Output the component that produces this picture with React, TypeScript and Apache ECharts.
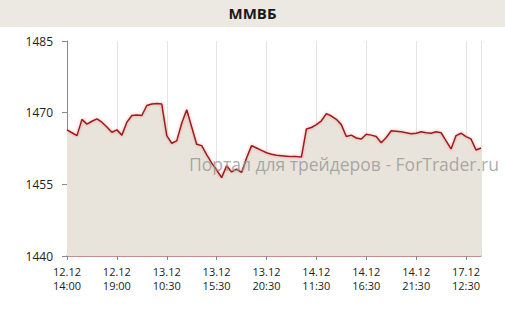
import React, { useEffect, useRef } from "react";
import * as echarts from "echarts";

const title = "ММВБ";
const watermark = "Портал для трейдеров - ForTrader.ru";
const tickLabels = [
  "12.12\n14:00",
  "12.12\n19:00",
  "13.12\n10:30",
  "13.12\n15:30",
  "13.12\n20:30",
  "14.12\n11:30",
  "14.12\n16:30",
  "14.12\n21:30",
  "17.12\n12:30",
];
const yTicks = [1440, 1455, 1470, 1485];
const values = [
  1466.4, 1465.8, 1465.2, 1468.6, 1467.6, 1468.2, 1468.7, 1468.0, 1467.0, 1465.9,
  1466.4, 1465.3, 1468.0, 1469.4, 1469.5, 1469.4, 1471.5, 1471.8, 1471.9, 1471.8,
  1465.2, 1463.6, 1464.1, 1467.8, 1470.6, 1467.0, 1463.4, 1463.1, 1461.2, 1459.5,
  1458.0, 1456.4, 1458.9, 1457.6, 1458.2, 1457.5, 1460.5, 1463.1, 1462.6, 1462.1,
  1461.6, 1461.3, 1461.1, 1461.0, 1460.9, 1460.8, 1460.8, 1460.7, 1466.6, 1466.9,
  1467.5, 1468.3, 1469.8, 1469.3, 1468.6, 1467.5, 1465.0, 1465.3, 1464.7, 1464.5,
  1465.5, 1465.3, 1465.0, 1463.7, 1464.8, 1466.2, 1466.1, 1466.0, 1465.8, 1465.6,
  1465.7, 1466.0, 1465.8, 1465.7, 1466.0, 1465.8, 1464.1, 1462.4, 1465.2, 1465.7,
  1465.0, 1464.5, 1462.2, 1462.6,
];
const pointsPerLabel = 10;

export default function App() {
  const ref = useRef<HTMLDivElement>(null);
  useEffect(() => {
    if (!ref.current) return;
    const chart = echarts.init(ref.current, null, { renderer: "svg" });
    const data = values.map((v, i) => [i, v]);
    chart.setOption({
      animation: false,
      backgroundColor: "#ffffff",
      textStyle: { fontFamily: "Open Sans" },
      graphic: [
        {
          type: "rect",
          left: 0,
          top: 0,
          shape: { width: 505, height: 27 },
          style: { fill: "#ECE9E2" },
          silent: true,
          z: -1,
        },
        {
          type: "text",
          left: "center",
          top: 5,
          style: {
            text: title,
            font: "bold 15px 'Open Sans'",
            fill: "#1a1a1a",
          },
        },
        {
          type: "text",
          left: 189,
          top: 155,
          style: {
            text: watermark,
            font: "17.5px 'Open Sans'",
            fill: "rgba(150,150,150,0.8)",
          },
          z: 100,
        },
      ],
      grid: { left: 67, right: 24, top: 41, bottom: 54 },
      xAxis: {
        type: "value",
        min: 0,
        max: values.length - 1,
        interval: pointsPerLabel,
        axisLine: { show: true, lineStyle: { color: "#B36B6B", width: 1.5 } },
        axisTick: { show: true, length: 4, lineStyle: { color: "#888" } },
        axisLabel: {
          color: "#222",
          fontSize: 11,
          lineHeight: 14,
          margin: 8,
          showMaxLabel: false,
          formatter: (v: number) => tickLabels[Math.round(v / pointsPerLabel)] ?? "",
        },
        splitLine: { show: true, lineStyle: { color: "#E4E4E4", width: 1 } },
      },
      yAxis: {
        type: "value",
        min: yTicks[0],
        max: yTicks[yTicks.length - 1],
        interval: yTicks[1] - yTicks[0],
        axisLine: { show: true, lineStyle: { color: "#8a8a8a" } },
        axisTick: { show: true, length: 5, lineStyle: { color: "#8a8a8a" } },
        axisLabel: {
          color: "#222",
          fontSize: 12,
          margin: 14,
          formatter: (v: number) => String(v),
        },
        splitLine: { show: false },
      },
      series: [
        {
          type: "line",
          data,
          symbol: "none",
          lineStyle: {
            color: "#9A1A1A",
            width: 1.5,
            shadowColor: "rgba(230,90,90,0.6)",
            shadowBlur: 3,
          },
          areaStyle: { color: "#E9E4DB", opacity: 1 },
          z: 2,
        },
      ],
    });
    return () => chart.dispose();
  }, []);
  return (
    <div
      ref={ref}
      style={{ position: "fixed", left: 0, top: 0, width: 505, height: 310 }}
    />
  );
}
